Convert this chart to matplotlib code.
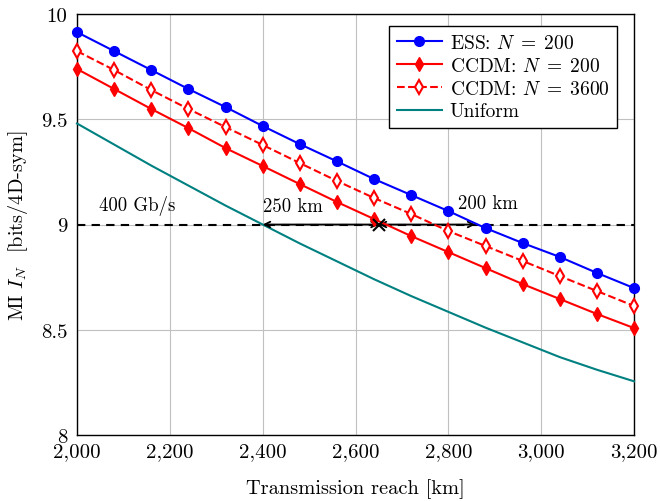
import matplotlib.pyplot as plt
from matplotlib.ticker import FuncFormatter

plt.rcParams['font.family'] = ['cmr10', 'DejaVu Serif']
plt.rcParams['mathtext.fontset'] = 'cm'
plt.rcParams['axes.formatter.use_mathtext'] = True

# ---------- data ----------
reach = [2000, 2080, 2160, 2240, 2320, 2400, 2480, 2560,
         2640, 2720, 2800, 2880, 2960, 3040, 3120, 3200]
ess_200 = [9.914, 9.824, 9.734, 9.644, 9.558, 9.468, 9.382, 9.300,
           9.216, 9.140, 9.064, 8.983, 8.912, 8.846, 8.770, 8.698]
ccdm_200 = [9.739, 9.644, 9.549, 9.458, 9.363, 9.278, 9.192, 9.107,
            9.026, 8.945, 8.869, 8.793, 8.717, 8.646, 8.575, 8.508]
ccdm_3600 = [9.824, 9.734, 9.639, 9.549, 9.463, 9.378, 9.292, 9.207,
             9.126, 9.050, 8.969, 8.898, 8.827, 8.755, 8.684, 8.613]
uniform = [9.48, 9.38, 9.28, 9.185, 9.09, 9.00, 8.91, 8.825,
           8.74, 8.66, 8.585, 8.51, 8.44, 8.37, 8.31, 8.255]

target_mi = 9.0
reach_uniform = 2400
reach_ccdm = 2650
reach_ess = 2858

# ---------- plot ----------
fig = plt.figure(figsize=(6.6, 5.02), dpi=100)
ax = fig.add_axes([0.1167, 0.1315, 0.844, 0.8385])

ax.plot(reach, ess_200, '-o', color='blue', lw=1.5, ms=7, clip_on=False, zorder=4,
        label='ESS: $N\\;=\\;200$')
ax.plot(reach, ccdm_200, '-d', color='red', lw=1.5, ms=7.5, clip_on=False, zorder=4,
        label='CCDM: $N\\;=\\;200$')
ax.plot(reach, ccdm_3600, '--d', color='red', lw=1.5, ms=7.5, mfc='white', mew=1.5,
        clip_on=False, zorder=4, label='CCDM: $N\\;=\\;3600$')
ax.plot(reach, uniform, '-', color='teal', lw=1.5, clip_on=False, zorder=3, label='Uniform')

ax.axhline(target_mi, color='black', ls='--', lw=1.5, dashes=(4, 3), zorder=2)
ax.annotate('', xy=(reach_uniform, target_mi), xytext=(reach_ccdm, target_mi),
            arrowprops=dict(arrowstyle='<->', color='black', lw=1.3, shrinkA=0, shrinkB=0))
ax.annotate('', xy=(reach_ccdm, target_mi), xytext=(reach_ess, target_mi),
            arrowprops=dict(arrowstyle='<->', color='black', lw=1.3, shrinkA=0, shrinkB=0))
ax.plot([reach_ccdm], [target_mi], 'x', color='black', ms=9, mew=1.5, zorder=5)

ax.text(2130, 9.045, '400 Gb/s', fontsize=13.5, ha='center', va='bottom')
ax.text(2400, 9.045, '250 km', fontsize=13.5, ha='left', va='bottom')
ax.text(2820, 9.06, '200 km', fontsize=13.5, ha='left', va='bottom')

ax.set_xlim(2000, 3200)
ax.set_ylim(8, 10)
ax.set_xticks(range(2000, 3201, 200))
ax.set_yticks([8, 8.5, 9, 9.5, 10])
ax.xaxis.set_major_formatter(FuncFormatter(lambda v, p: f'{int(v):,}'))
ax.yaxis.set_major_formatter(FuncFormatter(lambda v, p: f'{v:g}'))
ax.tick_params(length=0, labelsize=15)
ax.tick_params(axis='y', pad=7)
ax.tick_params(axis='x', pad=5)
ax.grid(True, color='#c0c0c0', lw=0.8)
ax.set_axisbelow(True)

ax.set_xlabel('Transmission reach [km]', fontsize=14.7, labelpad=13)
ax.set_ylabel('MI $I_N$  [bits/4D-sym]', fontsize=14.7, labelpad=8)

leg = ax.legend(loc='upper right', bbox_to_anchor=(0.9695, 0.9715), borderaxespad=0,
                fontsize=14, fancybox=False, edgecolor='black', framealpha=1,
                borderpad=0.4, handlelength=2.3, handletextpad=0.4, labelspacing=0.25)
leg.get_frame().set_linewidth(1.0)

for s in ax.spines.values():
    s.set_linewidth(1.0)

plt.savefig('out.png', dpi=100)
